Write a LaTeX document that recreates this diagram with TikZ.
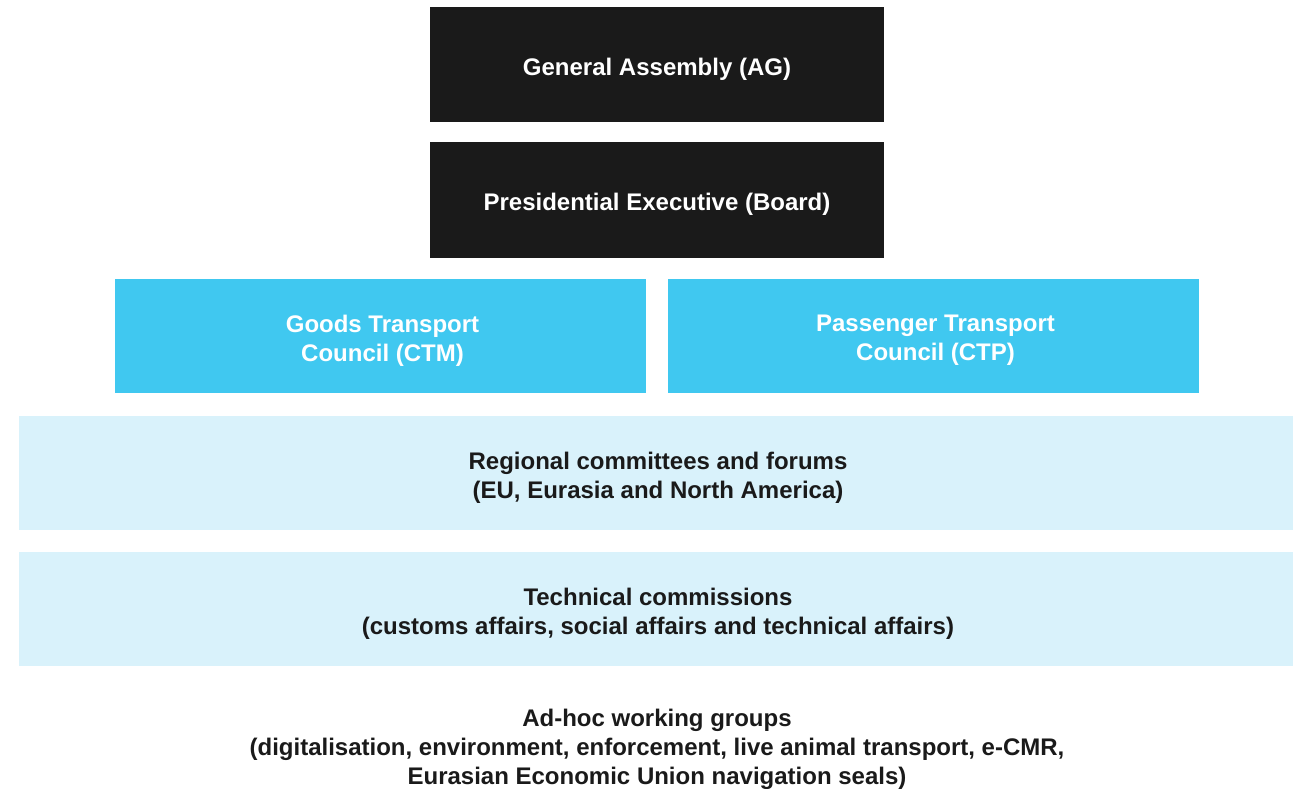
\documentclass[tikz,border=0pt]{standalone}
\usepackage{fontspec}
\setmainfont{Liberation Sans}
\definecolor{darkbox}{HTML}{1A1A1A}
\definecolor{cyanbox}{HTML}{40C8F0}
\definecolor{lightbox}{HTML}{D9F2FB}
\begin{document}
\begin{tikzpicture}[x=1pt,y=-1pt,
  lbl/.style={font=\fontsize{24}{29}\selectfont\bfseries, align=center, inner sep=0pt},
  boxbase/.style={inner sep=0pt},
  darkstyle/.style={boxbase, fill=darkbox, minimum width=454pt, minimum height=115pt},
  cyanstyle/.style={boxbase, fill=cyanbox, minimum width=531pt, minimum height=114pt},
  lightstyle/.style={boxbase, fill=lightbox, minimum width=1274pt, minimum height=114pt},
  whitetext/.style={lbl, text=white},
  darktext/.style={lbl, text=darkbox}]
\useasboundingbox (0,0) rectangle (1293,789);
\node[darkstyle] (ag) at (657,65) {};
\node[darkstyle] (board) at (657,200) {};
\node[cyanstyle] (ctm) at (380.5,336) {};
\node[cyanstyle] (ctp) at (933.5,336) {};
\node[lightstyle] (reg) at (656,473) {};
\node[lightstyle] (tech) at (656,609) {};
\node[whitetext] (agt) at ([yshift=-4.5pt]ag.center) {General Assembly (AG)};
\node[whitetext] (boardt) at ([yshift=-4.5pt]board.center) {Presidential Executive (Board)};
\node[whitetext] (ctmt) at ([shift={(2,-4.5pt)}]ctm.center) {Goods Transport\\Council (CTM)};
\node[whitetext] (ctpt) at ([shift={(2,-4.5pt)}]ctp.center) {Passenger Transport\\Council (CTP)};
\node[darktext] (regt) at ([shift={(2,-4.5pt)}]reg.center) {Regional committees and forums\\(EU, Eurasia and North America)};
\node[darktext] (techt) at ([shift={(2,-4.5pt)}]tech.center) {Technical commissions\\(customs affairs, social affairs and technical affairs)};
\node[darktext] (adhoc) at (657,749) {Ad-hoc working groups\\(digitalisation, environment, enforcement, live animal transport, e-CMR,\\Eurasian Economic Union navigation seals)};
\end{tikzpicture}
\end{document}
